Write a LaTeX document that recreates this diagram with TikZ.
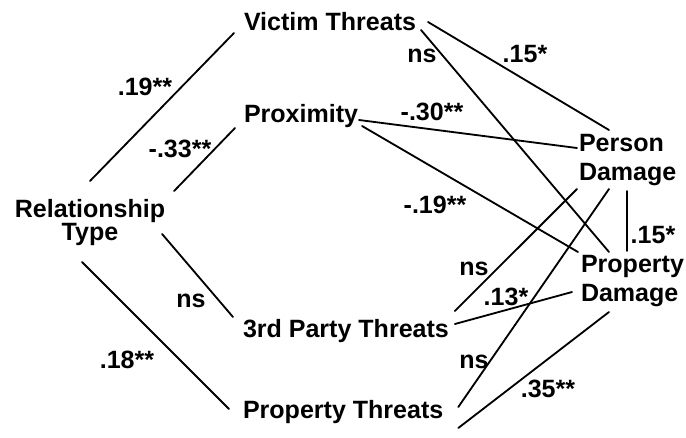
\documentclass[tikz,border=0pt]{standalone}
\usepackage{fontspec}
\setmainfont{Liberation Sans}
\usetikzlibrary{calc}

\begin{document}
\begin{tikzpicture}[
  x=0.025cm,y=-0.025cm,
  font=\fontsize{17.8}{21}\selectfont\bfseries,
  var/.style={inner sep=0pt,outer sep=0pt},
  lbl/.style={inner sep=0pt,anchor=base},
  lnk/.style={line width=1.3pt,line cap=round},
]
\useasboundingbox (0,0) rectangle (686,437);

\node[var,anchor=north,align=center] (rt) at (90,199) {Relationship\\[-4.6pt]Type};

\node[var,anchor=base west] (vt) at (244,30) {Victim Threats};
\node[var,anchor=base west] (px) at (244,122) {Proximity};
\node[var,anchor=base west] (tp) at (243,337) {3rd Party Threats};
\node[var,anchor=base west] (pt) at (243,418) {Property Threats};

\node[var,anchor=north west,align=left] (pdm) at (579,134) {Person\\Damage};
\node[var,anchor=north west,align=left] (prd) at (581,255) {Property\\Damage};

\draw[lnk] ($(rt.north)+(0,-18)$) -- ($(vt.base west)+(-10,3)$);
\draw[lnk] ($(rt.north east)+(9,-8)$) -- ($(px.base west)+(-9,6)$);
\draw[lnk] ($(rt.north east)+(-3,35)$) -- ($(tp.base west)+(-10,-20)$);
\draw[lnk] ($(rt.north)+(-8,63)$) -- ($(pt.base west)+(-14,-9)$);

\draw[lnk] ($(vt.base east)+(12,-8)$) -- ($(pdm.north west)+(30,-4)$);
\draw[lnk] ($(vt.base east)+(5,0)$) -- ($(prd.north west)+(28,-3)$);
\draw[lnk] ($(px.base east)+(1,-2)$) -- ($(pdm.north west)+(-2,14)$);
\draw[lnk] ($(px.base east)+(4,4)$) -- ($(prd.north west)+(-3,-3)$);
\draw[lnk] ($(tp.base east)+(6,-26)$) -- ($(pdm.north west)+(-2,55)$);
\draw[lnk] ($(tp.base east)+(6,-13)$) -- ($(prd.north west)+(-9,37)$);
\draw[lnk] ($(pt.base east)+(15,-11)$) -- ($(pdm.north west)+(30,55)$);
\draw[lnk] ($(pt.base east)+(15,10)$) -- ($(prd.north west)+(28,57)$);
\draw[lnk] ($(pdm.north west)+(48,57)$) -- ($(prd.north west)+(46,-4)$);

\node[lbl] (l1) at (145,95) {.19**};
\node[lbl] (l2) at (180,157) {-.33**};
\node[lbl] (l3) at (191,307) {ns};
\node[lbl] (l4) at (127,368) {.18**};
\node[lbl] (l5) at (525,62) {.15*};
\node[lbl] (l6) at (422,62) {ns};
\node[lbl] (l7) at (432,120) {-.30**};
\node[lbl] (l8) at (435,213) {-.19**};
\node[lbl] (l9) at (474,275) {ns};
\node[lbl] (l10) at (506,305) {.13*};
\node[lbl] (l11) at (474,368) {ns};
\node[lbl] (l12) at (548,397) {.35**};
\node[lbl] (l13) at (653,243) {.15*};

\end{tikzpicture}
\end{document}
